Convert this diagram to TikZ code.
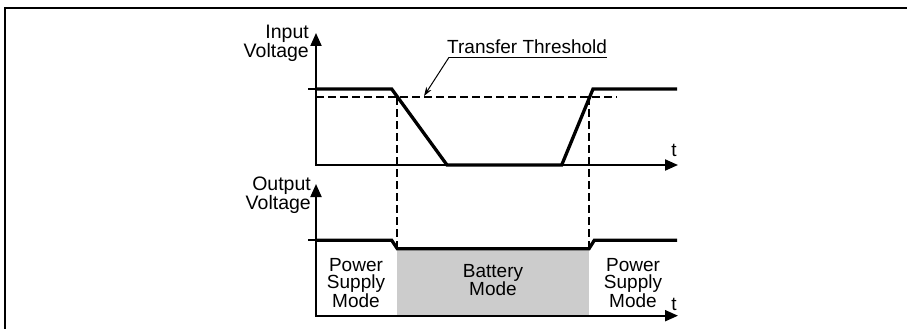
\documentclass[tikz,border=0pt]{standalone}
\usepackage{fontspec}
\setmainfont{Liberation Sans}
\definecolor{ModeGray}{RGB}{204,204,204}
\usetikzlibrary{arrows.meta,positioning,calc}

\begin{document}
\begin{tikzpicture}[x=1pt,y=-1pt,
  font=\fontsize{19}{15}\selectfont,
  axis/.style={line width=2pt,line join=miter,
    {Triangle[length=13pt,width=11pt]}-{Triangle[length=13pt,width=11pt]}},
  signal/.style={line width=3.3pt,line join=miter},
  guide/.style={line width=1.8pt,dash pattern=on 7.5pt off 4.5pt},
  lbl/.style={inner sep=0pt,align=center}]
\useasboundingbox (0,0) rectangle (907,329);
% frame
\draw[line width=2pt] (5,329) -- (5,8) -- (907,8);
% battery period (shaded)
\fill[ModeGray] (397.3,248.7) rectangle (589,315.7);
% input voltage
\draw[axis] (316,33) -- (316,165) -- (678,165);
\draw[line width=2pt] (308,89) -- (316,89);
\draw[signal] (316,89) -- (391.7,89) -- (447,165) -- (561.7,165) -- (593,89) -- (677,89);
\draw[guide] (316,97.3) -- (616.7,97.3);
\node[lbl,anchor=east,align=right,font=\fontsize{19.5}{15}\selectfont] (inv) at (309,43) {Input\\Voltage};
\node[lbl] (t1) at (674,150) {t};
% output voltage
\draw[axis] (316,184) -- (316,315.7) -- (678,315.7);
\draw[line width=2pt] (308,240.3) -- (316,240.3);
\draw[signal] (316,240.3) -- (391.7,240.3) -- (397.3,248.7) -- (589,248.7) -- (594.3,240.3) -- (677,240.3);
\node[lbl,anchor=east,align=right,font=\fontsize{19.5}{17}\selectfont] (outv) at (311,195) {Output\\Voltage};
\node[lbl] (t2) at (674,304) {t};
% transfer points
\draw[guide] (397.3,97.3) -- (397.3,248.7);
\draw[guide] (589,97.3) -- (589,248.7);
% threshold label
\node[lbl,anchor=base west] (thr) at (447,53) {Transfer Threshold};
\coordinate (ul) at ($(thr.base west)+(2,4.3)$);
\coordinate (thrpt) at (424,96);
\draw[line width=1pt] (ul) -- ($(thr.base east)+(0,4.3)$);
\draw[line width=1pt,-{Stealth[length=9pt,width=6pt]}] (ul) -- (thrpt);
% modes
\node[lbl,font=\fontsize{19}{17}\selectfont] (psm1) at (356,283) {Power\\Supply\\Mode};
\node[lbl] (bat) at (493,280) {Battery\\Mode};
\node[lbl,font=\fontsize{19}{17}\selectfont] (psm2) at (633,283) {Power\\Supply\\Mode};
\end{tikzpicture}
\end{document}
